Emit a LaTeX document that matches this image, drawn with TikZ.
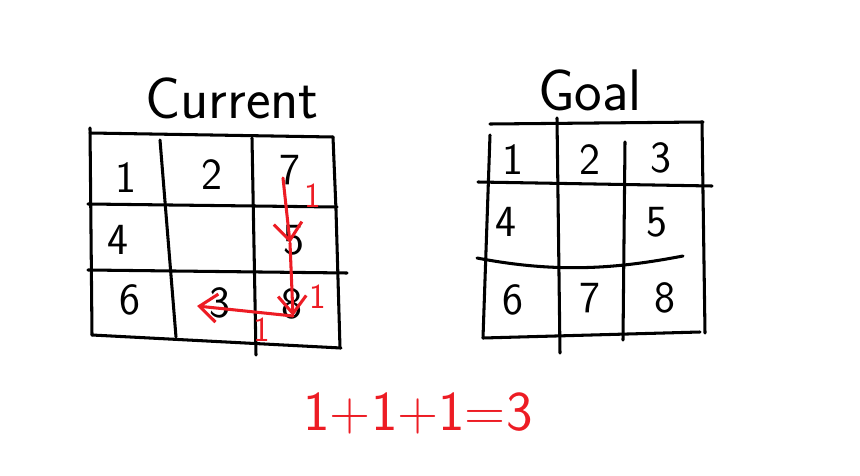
\documentclass[tikz,border=0pt]{standalone}
\usepackage{tikz}
\usetikzlibrary{arrows.meta, positioning}
\definecolor{penred}{RGB}{237,28,36}

\begin{document}
\begin{tikzpicture}[x=0.03cm, y=-0.03cm,
        gridline/.style={line width=2.6pt, line cap=round, line join=round},
        redline/.style={penred, line width=2.6pt, line cap=round},
        redarrow/.style={redline, -{Straight Barb[length=15pt, width=24pt, line width=2.6pt]}},
        digit/.style={font=\sffamily\fontsize{38}{38}\selectfont, inner sep=0pt},
        title/.style={font=\sffamily\fontsize{50}{50}\selectfont, inner sep=0pt},
        cost/.style={text=penred, font=\sffamily\fontsize{30}{30}\selectfont, inner sep=0pt}]
    \fill[white] (0,0) rectangle (860,476);
    \useasboundingbox (0,0) rectangle (860,476);

    % current board
    \node[title] (current) at (232,98) {Current};
    \draw[gridline] (90,128) -- (92,335);
    \draw[gridline] (90,133) -- (333,137);
    \draw[gridline] (333,137) -- (336,210) -- (340,348);
    \draw[gridline] (92,335) -- (341,348);
    \draw[gridline] (88,204) -- (337,207);
    \draw[gridline] (88,270) -- (347,273);
    \draw[gridline] (160,140) -- (176,337);
    \draw[gridline] (252,138) -- (256,355);

    \node[digit] (c1) at (126,178) {1};
    \node[digit] (c2) at (212,175) {2};
    \node[digit] (c7) at (290,170) {7};
    \node[digit] (c4) at (118,240) {4};
    \node[digit] (c5) at (294,240) {5};
    \node[digit] (c6) at (130,300) {6};
    \node[digit] (c3) at (220,303) {3};
    \node[digit] (c8) at (292,304) {8};

    % moves of tile 3
    \coordinate (m7) at (283,178);
    \coordinate (m5) at (290,243);
    \coordinate (m8) at (293,316);
    \coordinate (m3) at (197,306);
    \draw[redarrow] (m7) -- (m5);
    \draw[redarrow] (m5) -- (m8);
    \draw[redarrow] (m8) -- (m3);
    \node[cost] (k1) at (313,196) {1};
    \node[cost] (k2) at (318,297) {1};
    \node[cost] (k3) at (262,330) {1};

    % goal board
    \node[title] (goal) at (590,90) {Goal};
    \draw[gridline] (490,124) -- (703,122);
    \draw[gridline] (490,135) -- (483,338);
    \draw[gridline] (702,122) -- (705,333);
    \draw[gridline] (483,338) -- (700,332);
    \draw[gridline] (478,182) -- (712,186);
    \draw[gridline] (477,258) .. controls (560,274) and (620,268) .. (683,256);
    \draw[gridline] (557,118) -- (560,353);
    \draw[gridline] (625,142) -- (623,340);

    \node[digit] (g1) at (513,160) {1};
    \node[digit] (g2) at (590,160) {2};
    \node[digit] (g3) at (661,158) {3};
    \node[digit] (g4) at (506,222) {4};
    \node[digit] (g5) at (657,222) {5};
    \node[digit] (g6) at (513,300) {6};
    \node[digit] (g7) at (590,298) {7};
    \node[digit] (g8) at (665,298) {8};

    % total distance
    \node[digit, text=penred, font=\sffamily\fontsize{48}{48}\selectfont] (sum) at (418,413) {1+1+1=3};
\end{tikzpicture}
\end{document}
